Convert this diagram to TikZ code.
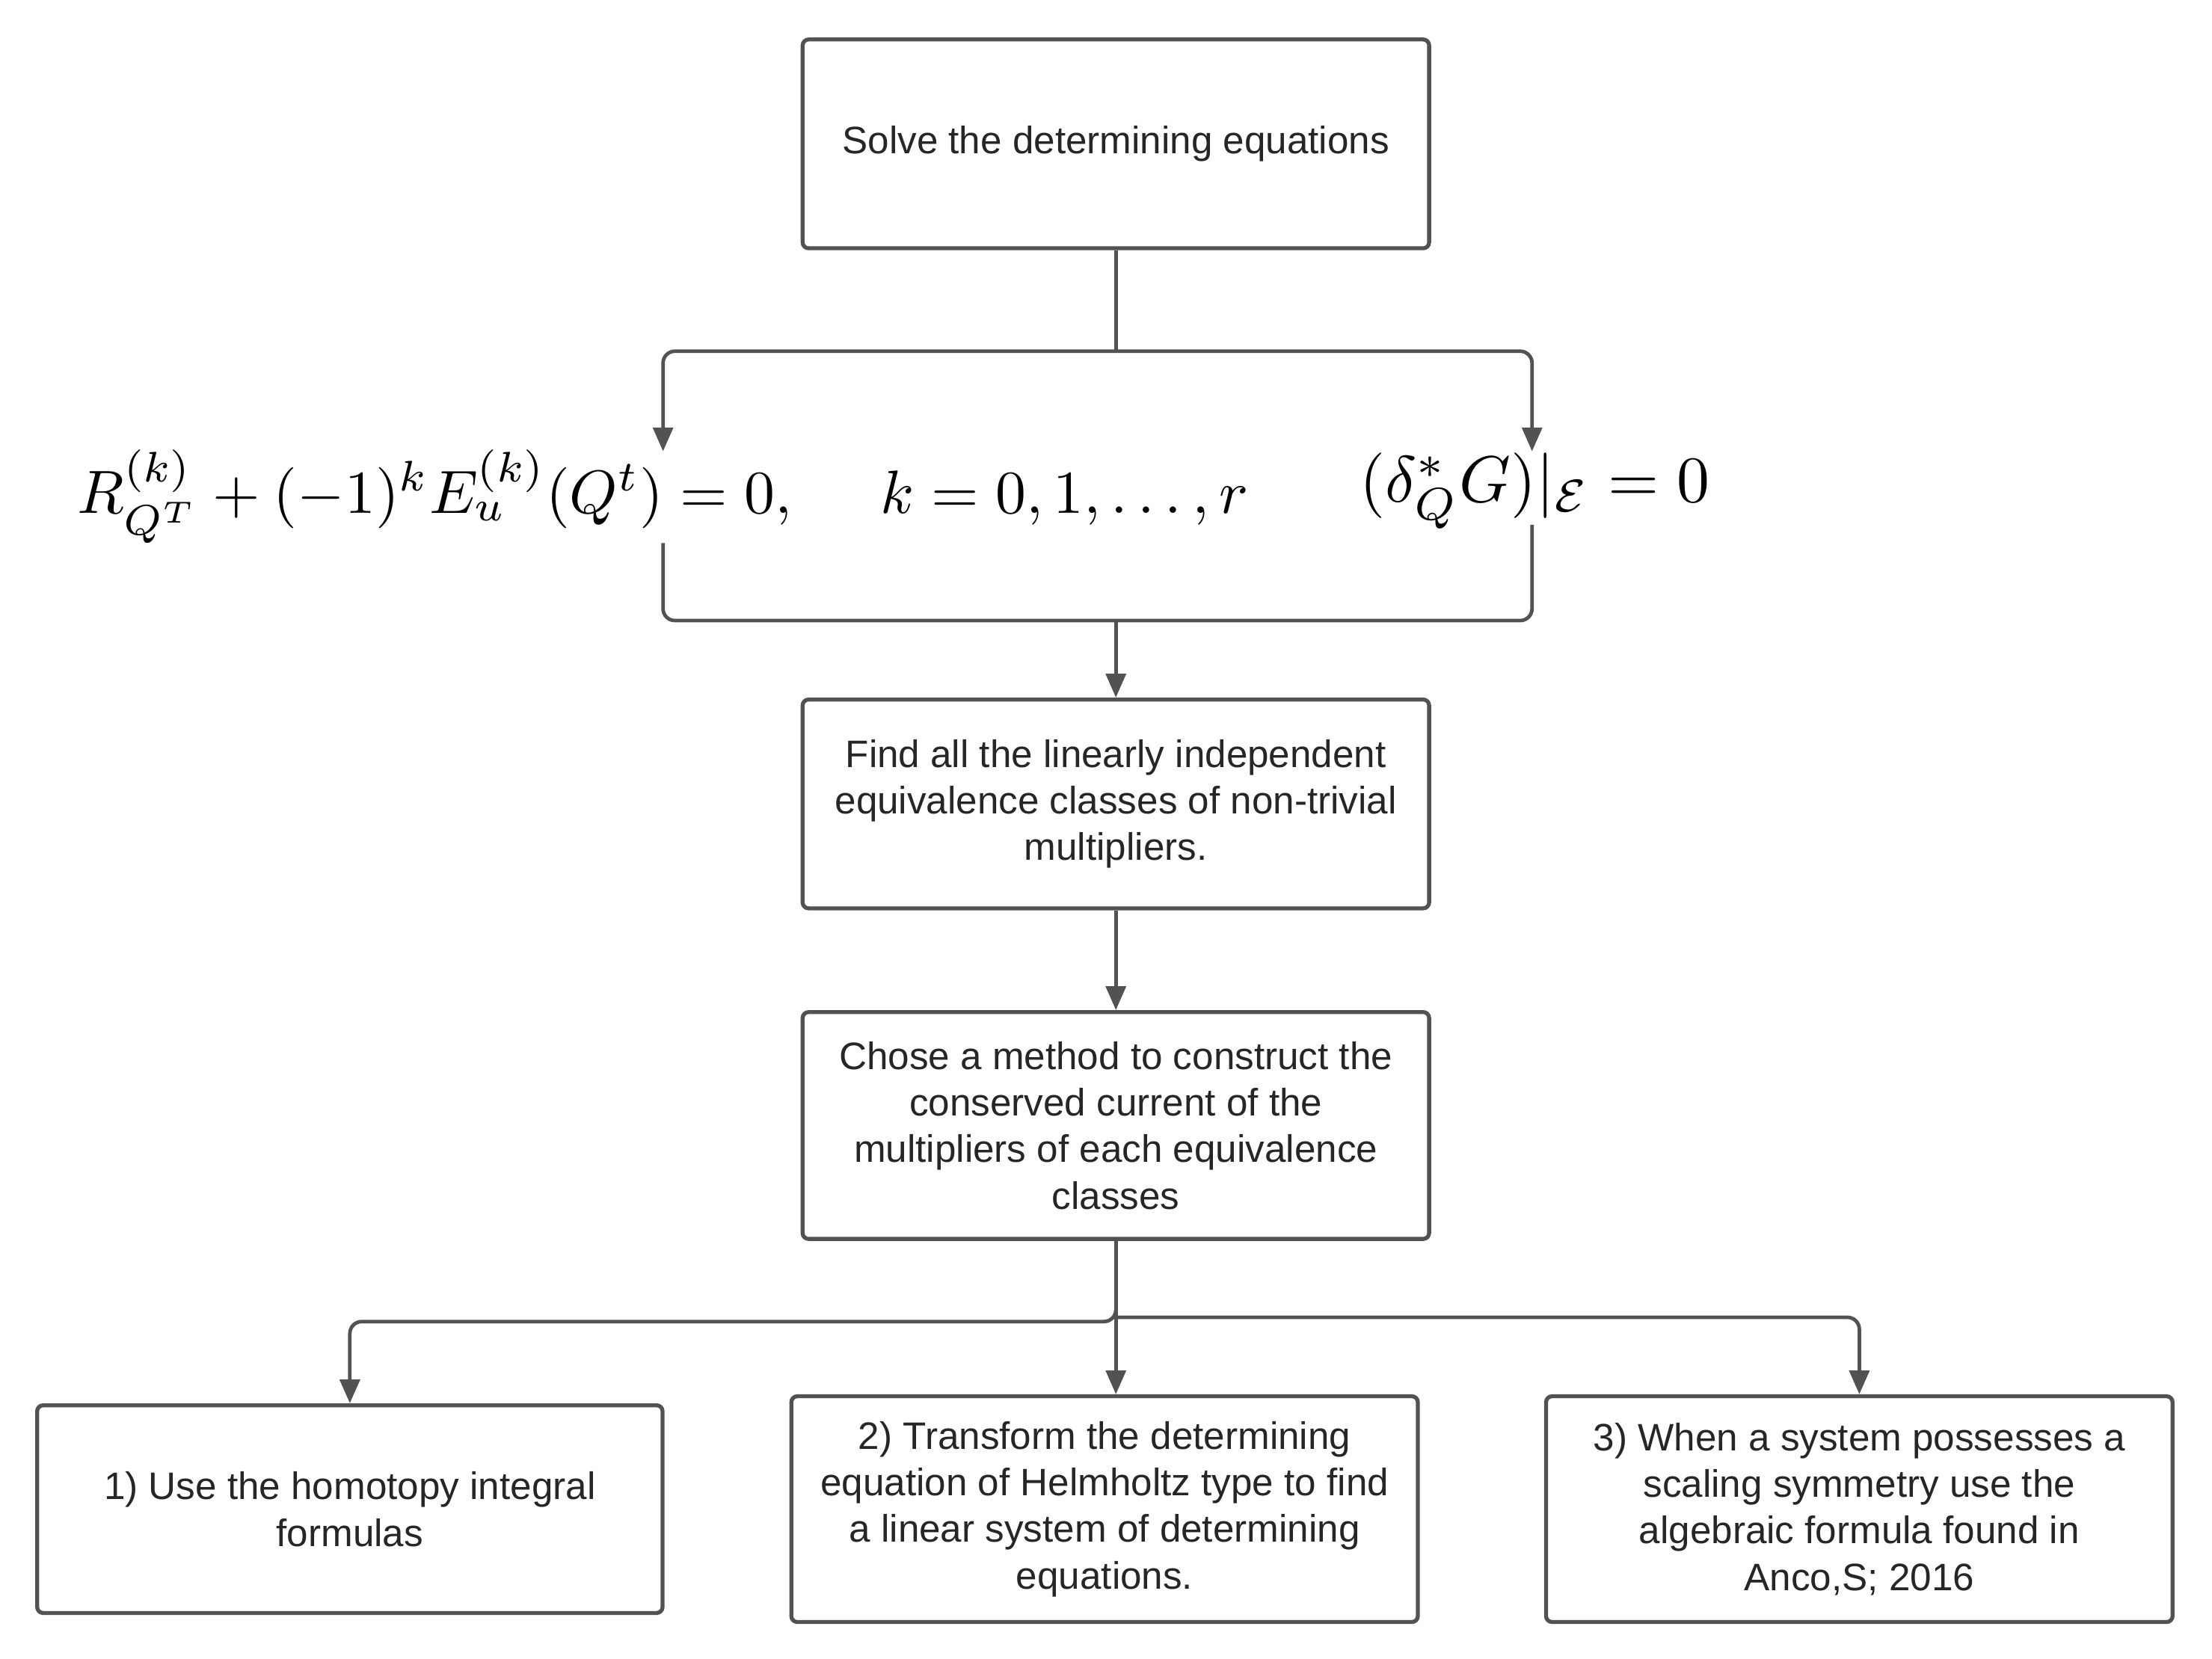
\documentclass[tikz,border=0pt]{standalone}
\usepackage{fontspec}
\setmainfont{Liberation Sans}
\usepackage{amsmath}
\usepackage{graphicx}
\usetikzlibrary{arrows.meta}
\begin{document}
\begin{tikzpicture}[x=0.025cm,y=-0.025cm,
  box/.style={draw=black!68,line width=2pt,rounded corners=3pt,align=center,
    font=\fontsize{19.3}{23.5}\selectfont,text=black!85,inner sep=0pt},
  ln/.style={draw=black!68,line width=1.8pt,rounded corners=6pt},
  ar/.style={ln,-{Triangle[length=12pt,width=10pt]}},
  eq/.style={inner sep=0pt}]
\useasboundingbox (0,0) rectangle (1568,1176);
\node[box,minimum width=11.1cm,minimum height=3.7cm] (b1) at (791,102) {Solve the determining equations};
\node[eq,anchor=center] (eqL) at (470,352) {\resizebox{20.75cm}{!}{$R^{(k)}_{Q^T}+(-1)^kE^{(k)}_u(Q^t)=0,\quad\; k=0,1,\dots,r$}};
\node[eq,anchor=center] (eqR) at (1088,348) {\resizebox{6.2cm}{!}{$(\delta^*_QG)|_{\mathcal{E}}=0$}};
\node[box,minimum width=11.1cm,minimum height=3.7cm] (b2) at (791,570) {Find all the linearly independent\\equivalence classes of non-trivial\\multipliers.};
\node[box,minimum width=11.1cm,minimum height=4.02cm] (b3) at (791,798) {Chose a method to construct the\\conserved current of the\\multipliers of each equivalence\\classes};
\node[box,minimum width=11.08cm,minimum height=3.68cm] (b4) at (248,1070) {1) Use the homotopy integral\\formulas};
\node[box,minimum width=11.1cm,minimum height=4.0cm] (b5) at (783,1070) {2) Transform the determining\\equation of Helmholtz type to find\\a linear system of determining\\equations.};
\node[box,minimum width=11.1cm,minimum height=4.0cm] (b6) at (1318,1070) {3) When a system possesses a\\scaling symmetry use the\\algebraic formula found in\\Anco,S; 2016};
\coordinate (t1) at (791,249);
\coordinate (aL) at (470,320);
\coordinate (aR) at (1086,320);
\draw[ln] (b1.south) -- (t1);
\draw[ar] (t1) -| (aL);
\draw[ar] (t1) -| (aR);
\coordinate (m1) at (791,440);
\draw[ln] (470,385) |- (m1);
\draw[ln] (1086,372) |- (m1);
\draw[ar] (m1) -- (b2.north);
\draw[ar] (b2.south) -- (b3.north);
\coordinate (s1) at (791,934);
\draw[ln] (b3.south) -- (s1);
\draw[ar] (791,930) |- (248,937) -- (b4.north);
\draw[ar] (s1) -- (s1 |- b5.north);
\draw[ar] (s1) -| (b6.north);
\end{tikzpicture}
\end{document}
